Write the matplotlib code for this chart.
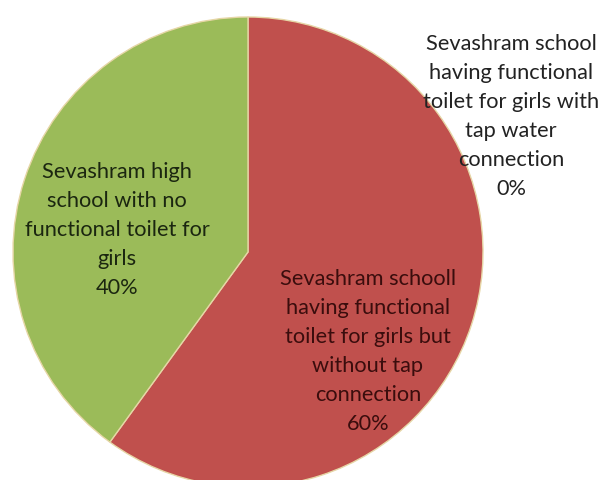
import matplotlib
matplotlib.use("Agg")
import matplotlib.pyplot as plt

# Share of Sevashram schools by girls' toilet facility
categories = [
    "Sevashram school\nhaving functional\ntoilet for girls with\ntap water\nconnection",
    "Sevashram schooll\nhaving functional\ntoilet for girls but\nwithout tap\nconnection",
    "Sevashram high\nschool with no\nfunctional toilet for\ngirls",
]
shares = [0, 60, 40]
colors = ["#4F81BD", "#C0504D", "#9BBB59"]
label_colors = ["#222222", "#3a0d0d", "#1b2610"]
# label anchor points (in units of pie radius)
label_pos = [(1.12, 0.58), (0.51, -0.42), (-0.557, 0.098)]

plt.rcParams["font.family"] = ["Lato", "DejaVu Sans"]

W, H = 604, 481
fig = plt.figure(figsize=(W / 100, H / 100), dpi=100)
cx, cy, r = 248, 253, 235
ax = fig.add_axes([(cx - r) / W, (H - cy - r) / H, 2 * r / W, 2 * r / H])

ax.pie(shares, colors=colors, startangle=90, counterclock=False, radius=1,
       wedgeprops=dict(edgecolor="#e6d6a6", linewidth=1.0))
ax.set_xlim(-1, 1)
ax.set_ylim(-1, 1)
ax.set_aspect("equal")
ax.axis("off")

for cat, val, (lx, ly), tc in zip(categories, shares, label_pos, label_colors):
    ax.text(lx, ly, f"{cat}\n{val}%", ha="center", va="center", fontsize=15.7,
            color=tc, linespacing=1.56, clip_on=False)

fig.savefig("out.png", dpi=100, facecolor="white")
